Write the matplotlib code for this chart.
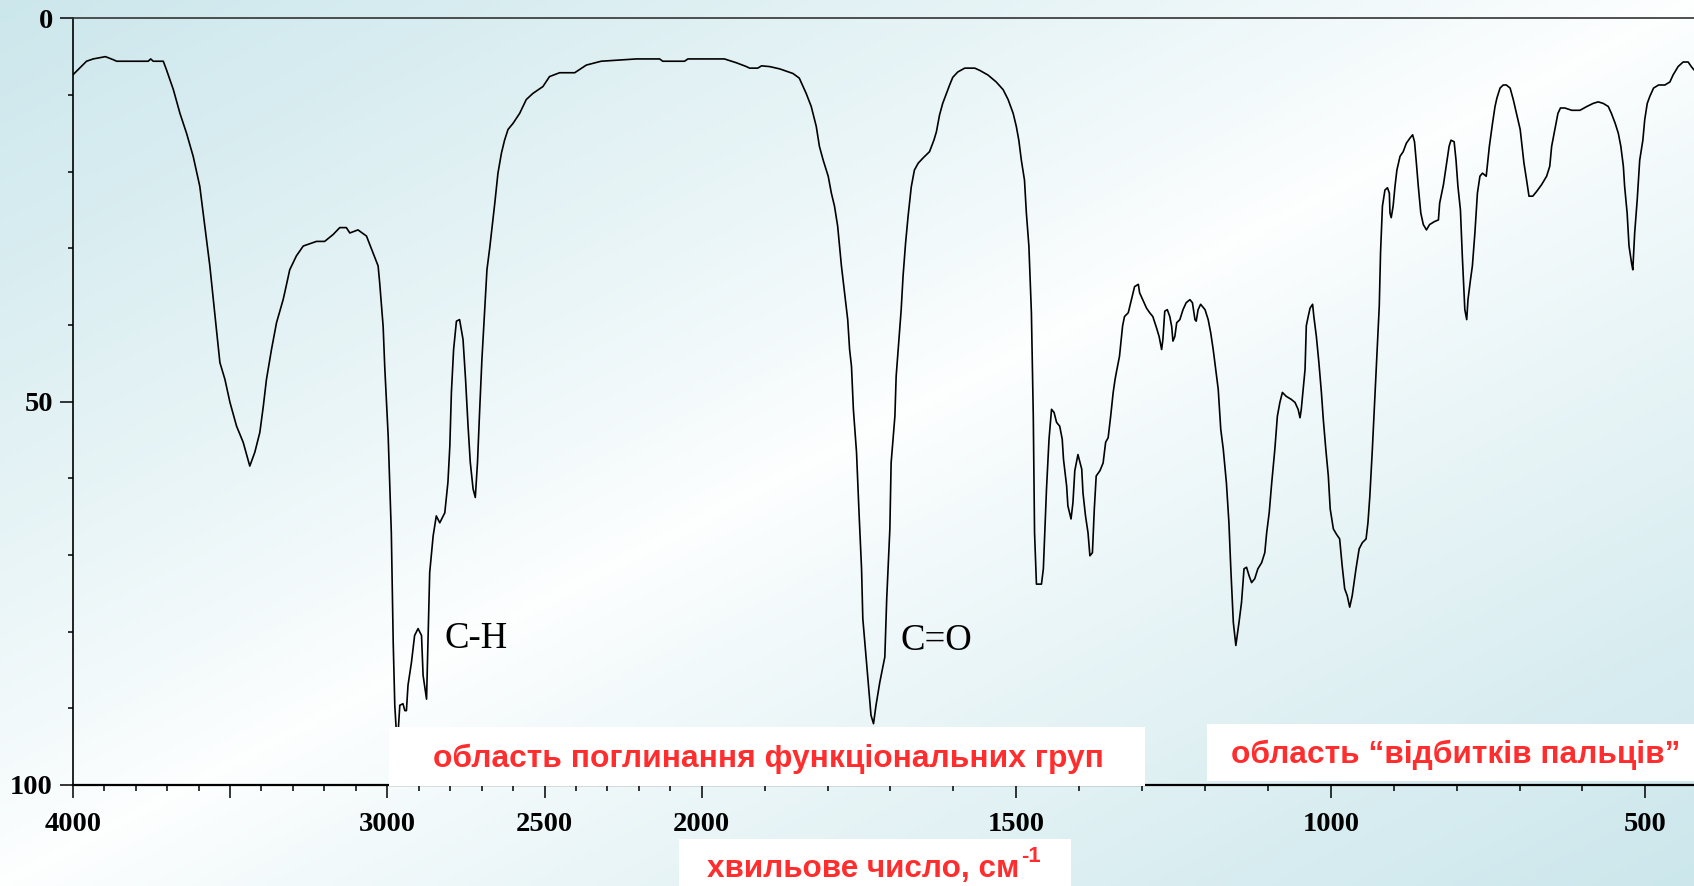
import numpy as np
import matplotlib
matplotlib.use("Agg")
import matplotlib.pyplot as plt
from matplotlib.patches import Rectangle
from matplotlib.ticker import FixedLocator, FixedFormatter

# spectrum: wavenumber (cm-1) and plotted value (0 top, 100 bottom)
wavenumber = [4000, 3956, 3935, 3896, 3871, 3860, 3760, 3752, 3744, 3712, 3702, 3680, 3659, 3638,
              3617, 3596, 3580, 3564, 3553, 3543, 3532, 3516, 3500, 3479, 3458, 3437, 3421, 3405,
              3394, 3384, 3368, 3352, 3331, 3326, 3310, 3289, 3267, 3225, 3199, 3172, 3151, 3130,
              3119, 3093, 3066, 3045, 3029, 3024, 3013, 3008, 2997, 2987, 2981, 2976, 2971, 2966,
              2960, 2950, 2944, 2939, 2934, 2923, 2913, 2902, 2891, 2886, 2875, 2870, 2865, 2854,
              2844, 2833, 2817, 2807, 2801, 2796, 2789, 2780, 2770, 2759, 2751, 2743, 2736, 2727,
              2720, 2713, 2706, 2699, 2690, 2683, 2674, 2658, 2648, 2637, 2627, 2616, 2600, 2579,
              2558, 2537, 2505, 2484, 2452, 2404, 2367, 2320, 2208, 2134, 2124, 2055, 2044, 1964,
              1945, 1929, 1924, 1911, 1905, 1892, 1876, 1855, 1845, 1834, 1826, 1818, 1813, 1807,
              1799, 1794, 1789, 1784, 1778, 1773, 1768, 1765, 1762, 1759, 1754, 1750, 1746, 1744,
              1739, 1734, 1731, 1727, 1723, 1717, 1709, 1706, 1701, 1699, 1693, 1691, 1687, 1683,
              1680, 1676, 1672, 1667, 1662, 1656, 1648, 1638, 1631, 1627, 1622, 1617, 1611, 1606,
              1601, 1593, 1582, 1566, 1558, 1545, 1532, 1521, 1513, 1505, 1500, 1496, 1492, 1487,
              1484, 1480, 1476, 1473, 1471, 1468, 1460, 1457, 1455, 1452, 1448, 1444, 1440, 1436,
              1431, 1427, 1425, 1420, 1418, 1413, 1410, 1407, 1402, 1396, 1394, 1390, 1386, 1383,
              1379, 1376, 1373, 1367, 1362, 1358, 1354, 1350, 1346, 1343, 1341, 1336, 1331, 1328,
              1322, 1317, 1312, 1306, 1304, 1298, 1293, 1288, 1283, 1277, 1273, 1269, 1267, 1264,
              1260, 1256, 1253, 1251, 1248, 1245, 1240, 1235, 1230, 1224, 1220, 1216, 1214, 1211,
              1207, 1200, 1195, 1191, 1187, 1183, 1179, 1175, 1171, 1166, 1162, 1159, 1155, 1151,
              1146, 1142, 1138, 1134, 1130, 1126, 1121, 1116, 1110, 1105, 1102, 1098, 1094, 1089,
              1085, 1081, 1077, 1071, 1063, 1057, 1052, 1049, 1047, 1044, 1041, 1039, 1036, 1033,
              1029, 1027, 1023, 1019, 1015, 1012, 1008, 1004, 1001, 996, 991, 986, 982, 978,
              974, 970, 966, 960, 955, 950, 944, 941, 938, 934, 930, 927, 923, 921,
              918, 914, 910, 907, 906, 904, 901, 898, 895, 890, 885, 880, 874, 870,
              867, 864, 861, 857, 853, 848, 843, 835, 829, 827, 821, 816, 812, 809,
              804, 801, 798, 794, 791, 787, 784, 782, 778, 775, 771, 767, 763, 759,
              753, 748, 743, 739, 736, 731, 726, 721, 715, 710, 705, 699, 696, 693,
              689, 685, 679, 673, 665, 657, 652, 649, 645, 642, 639, 635, 628, 617,
              604, 593, 583, 575, 567, 559, 554, 548, 543, 539, 535, 533, 529, 526,
              522, 520, 517, 513, 509, 504, 501, 497, 493, 487, 479, 469, 461, 456,
              448, 440, 432, 427, 423]
signal = [7.4, 5.6, 5.3, 5.0, 5.4, 5.6, 5.6, 5.3, 5.6, 5.6, 6.7, 9.3, 12.4, 15.0,
          18.0, 21.9, 27.1, 32.3, 36.7, 40.6, 44.9, 47.1, 50.1, 53.2, 55.3, 58.4, 56.6, 54.0,
          50.6, 47.1, 43.2, 39.7, 36.7, 35.8, 32.8, 31.0, 29.7, 29.1, 29.1, 28.2, 27.3, 27.3,
          28.0, 27.6, 28.4, 30.6, 32.3, 34.5, 40.2, 45.4, 54.5, 67.1, 81.4, 89.6, 93.1, 93.5,
          89.6, 89.4, 90.3, 90.3, 87.0, 84.0, 80.5, 79.6, 80.5, 85.7, 88.8, 80.5, 72.3, 67.5,
          64.9, 65.8, 64.5, 60.5, 55.8, 48.8, 43.2, 39.5, 39.3, 41.9, 47.1, 53.2, 57.9, 61.4,
          62.5, 57.9, 51.0, 44.5, 38.0, 32.8, 29.9, 24.1, 20.2, 17.6, 15.9, 14.5, 13.7, 12.4,
          10.6, 9.8, 8.9, 7.6, 7.1, 7.1, 6.1, 5.6, 5.3, 5.3, 5.6, 5.6, 5.3, 5.3,
          5.8, 6.3, 6.5, 6.5, 6.2, 6.3, 6.6, 7.2, 7.8, 9.8, 11.5, 14.1, 16.7, 18.5,
          20.6, 22.8, 24.5, 27.1, 32.3, 35.8, 39.3, 43.2, 45.4, 51.0, 56.6, 64.5, 71.8, 78.3,
          83.1, 87.9, 90.9, 92.0, 89.6, 86.6, 83.3, 75.7, 66.6, 58.0, 51.9, 46.7, 42.3, 38.0,
          33.6, 29.3, 25.8, 22.0, 19.8, 18.9, 18.2, 17.4, 15.9, 14.8, 12.6, 11.1, 9.8, 8.7,
          7.7, 7.0, 6.5, 6.5, 6.8, 7.4, 8.3, 9.3, 10.6, 12.4, 14.1, 15.9, 18.5, 21.1,
          25.4, 29.7, 38.4, 51.9, 67.1, 73.8, 73.8, 71.8, 67.5, 61.4, 54.9, 51.0, 51.4, 52.7,
          53.2, 54.9, 57.5, 61.0, 63.6, 65.3, 63.2, 59.0, 56.9, 58.8, 61.9, 64.9, 67.1, 70.1,
          69.7, 64.0, 59.7, 59.0, 58.0, 55.3, 54.7, 51.9, 48.8, 47.1, 46.2, 44.1, 40.1, 38.9,
          38.4, 36.7, 35.0, 34.7, 35.8, 36.9, 37.8, 38.4, 38.9, 40.4, 41.5, 43.2, 41.9, 38.2,
          38.0, 38.9, 40.2, 42.1, 41.5, 39.7, 39.3, 38.0, 37.1, 36.7, 37.1, 39.3, 39.5, 38.0,
          37.3, 38.0, 39.3, 41.0, 43.2, 45.8, 48.4, 53.6, 56.2, 60.6, 65.8, 71.8, 78.8, 81.8,
          78.8, 76.2, 71.8, 71.6, 72.7, 73.6, 73.1, 71.8, 71.0, 69.7, 67.1, 64.5, 60.6, 56.2,
          51.9, 50.1, 48.8, 49.3, 49.7, 50.1, 51.0, 52.1, 51.0, 48.4, 45.8, 40.1, 38.9, 37.8,
          37.3, 38.9, 41.5, 44.9, 48.8, 52.3, 56.2, 59.7, 64.0, 66.6, 67.3, 67.9, 71.4, 74.4,
          75.3, 76.8, 75.3, 71.8, 69.2, 68.4, 67.9, 65.8, 62.3, 56.2, 49.3, 44.1, 37.5, 30.6,
          24.5, 22.4, 22.1, 22.8, 25.4, 26.0, 24.5, 21.9, 19.8, 18.0, 17.4, 16.3, 15.6, 15.2,
          16.1, 18.9, 21.9, 25.4, 26.9, 27.6, 26.9, 26.5, 26.3, 24.1, 21.7, 18.9, 16.7, 15.9,
          16.1, 18.5, 21.9, 25.0, 31.0, 38.0, 39.3, 36.7, 34.1, 32.3, 28.0, 22.8, 20.6, 20.2,
          20.6, 16.7, 13.7, 11.5, 10.4, 9.1, 8.7, 8.7, 9.1, 10.6, 12.4, 14.5, 16.7, 18.9,
          21.0, 23.2, 23.2, 22.6, 21.7, 20.6, 19.3, 16.7, 15.0, 13.7, 12.4, 11.7, 11.7, 12.0,
          12.0, 11.5, 11.1, 10.9, 11.1, 11.5, 12.4, 13.7, 15.0, 16.7, 19.3, 21.9, 25.4, 29.7,
          31.9, 32.8, 28.0, 23.7, 18.5, 15.9, 13.2, 11.1, 10.2, 9.1, 8.7, 8.7, 8.3, 7.4,
          6.3, 5.7, 5.7, 6.3, 6.7]

x_major = [4000, 3500, 3000, 2500, 2000, 1500, 1000, 500]
x_labels = ["4000", "", "3000", "2500", "2000", "1500", "1000", "500"]
y_major = [0, 50, 100]

bands = [("C-H", 445, 648), ("C=O", 900, 650)]
region_func = "область поглинання функціональних груп"
region_fp = "область “відбитків пальців”"
xlabel = "хвильове число, см"
xlabel_sup = "-1"

W, H = 1694, 886
red = "#ff2d2d"

fig = plt.figure(figsize=(W / 100, H / 100), dpi=100)

# background gradient
bg = fig.add_axes([0, 0, 1, 1], zorder=-10)
yy, xx = np.mgrid[0:1:200j, 0:1:400j]
t = 0.5 * xx + 0.5 * yy
a = np.clip(np.abs(t - 0.5) * 2.0, 0, 1)
edge = np.array([0.80, 0.905, 0.925])
white = np.array([0.995, 1.0, 1.0])
img = white + (edge - white) * (a[..., None] ** 0.85)
bg.imshow(img, aspect="auto", extent=[0, 1, 0, 1])
bg.axis("off")


def fwd(w):
    w = np.asarray(w, dtype=float)
    return np.where(w > 2000, 2000 + (w - 2000) / 2.0, w)


def inv(u):
    u = np.asarray(u, dtype=float)
    return np.where(u > 2000, 2000 + (u - 2000) * 2.0, u)


ax = fig.add_axes([72.7 / W, 1 - 785 / H, 1 - 72.7 / W, (785 - 18.3) / H])
ax.set_facecolor("none")
ax.set_xscale("function", functions=(fwd, inv))
ax.plot(wavenumber, signal, color="black", lw=1.2)
ax.set_xlim(4000, 422.7)
ax.set_ylim(100, 0)

ax.xaxis.set_major_locator(FixedLocator(x_major))
ax.xaxis.set_major_formatter(FixedFormatter(x_labels))
ax.xaxis.set_minor_locator(FixedLocator(list(range(4000, 420, -100))))
ax.yaxis.set_major_locator(FixedLocator(y_major))
ax.yaxis.set_minor_locator(FixedLocator(list(range(0, 101, 10))))

ax.spines["right"].set_visible(False)
ax.spines["top"].set_color("#333333")
ax.spines["top"].set_linewidth(1.2)
ax.spines["left"].set_linewidth(1.2)
ax.spines["bottom"].set_linewidth(1.6)
ax.tick_params(axis="x", which="major", direction="out", length=9.2, width=1.1, pad=10.5)
ax.tick_params(axis="x", which="minor", direction="out", length=4.3, width=1.1)
ax.tick_params(axis="y", which="major", direction="out", length=9.2, width=1.1, pad=5)
ax.tick_params(axis="y", which="minor", direction="out", length=3.6, width=1.1)
for lab in ax.get_xticklabels() + ax.get_yticklabels():
    lab.set_fontfamily("Liberation Serif")
    lab.set_fontweight("bold")
    lab.set_fontsize(20.5)

for name, px, py in bands:
    fig.text(px / W, 1 - py / H, name, family="Liberation Serif", fontsize=26.5,
             ha="left", va="baseline")


def box(x0, y0, x1, y1):
    fig.add_artist(Rectangle((x0 / W, 1 - y1 / H), (x1 - x0) / W, (y1 - y0) / H,
                             transform=fig.transFigure, facecolor="white",
                             edgecolor="none", zorder=5))


box(389, 726.5, 1145, 786)
box(1207, 724, 1700, 781)
box(678.5, 839, 1070.5, 890)

renderer = fig.canvas.get_renderer()


def fitted(s, x, by, width, ha="center"):
    t = fig.text(x / W, 1 - by / H, s, family="Liberation Sans", fontweight="bold",
                 fontsize=24, color=red, ha=ha, va="baseline", zorder=6)
    w = t.get_window_extent(renderer).width
    t.set_fontsize(24 * width / w)
    return t


fitted(region_func, 768, 767, 672)
fitted(region_fp, 1456, 762.7, 450)
lab = fitted(xlabel, 707, 876.7, 312, ha="left")
fig.text(1021 / W, 1 - 862 / H, xlabel_sup, family="Liberation Sans", fontweight="bold",
         fontsize=lab.get_fontsize() * 0.7, color=red, ha="left", va="baseline", zorder=6)

fig.savefig("out.png", dpi=100)
